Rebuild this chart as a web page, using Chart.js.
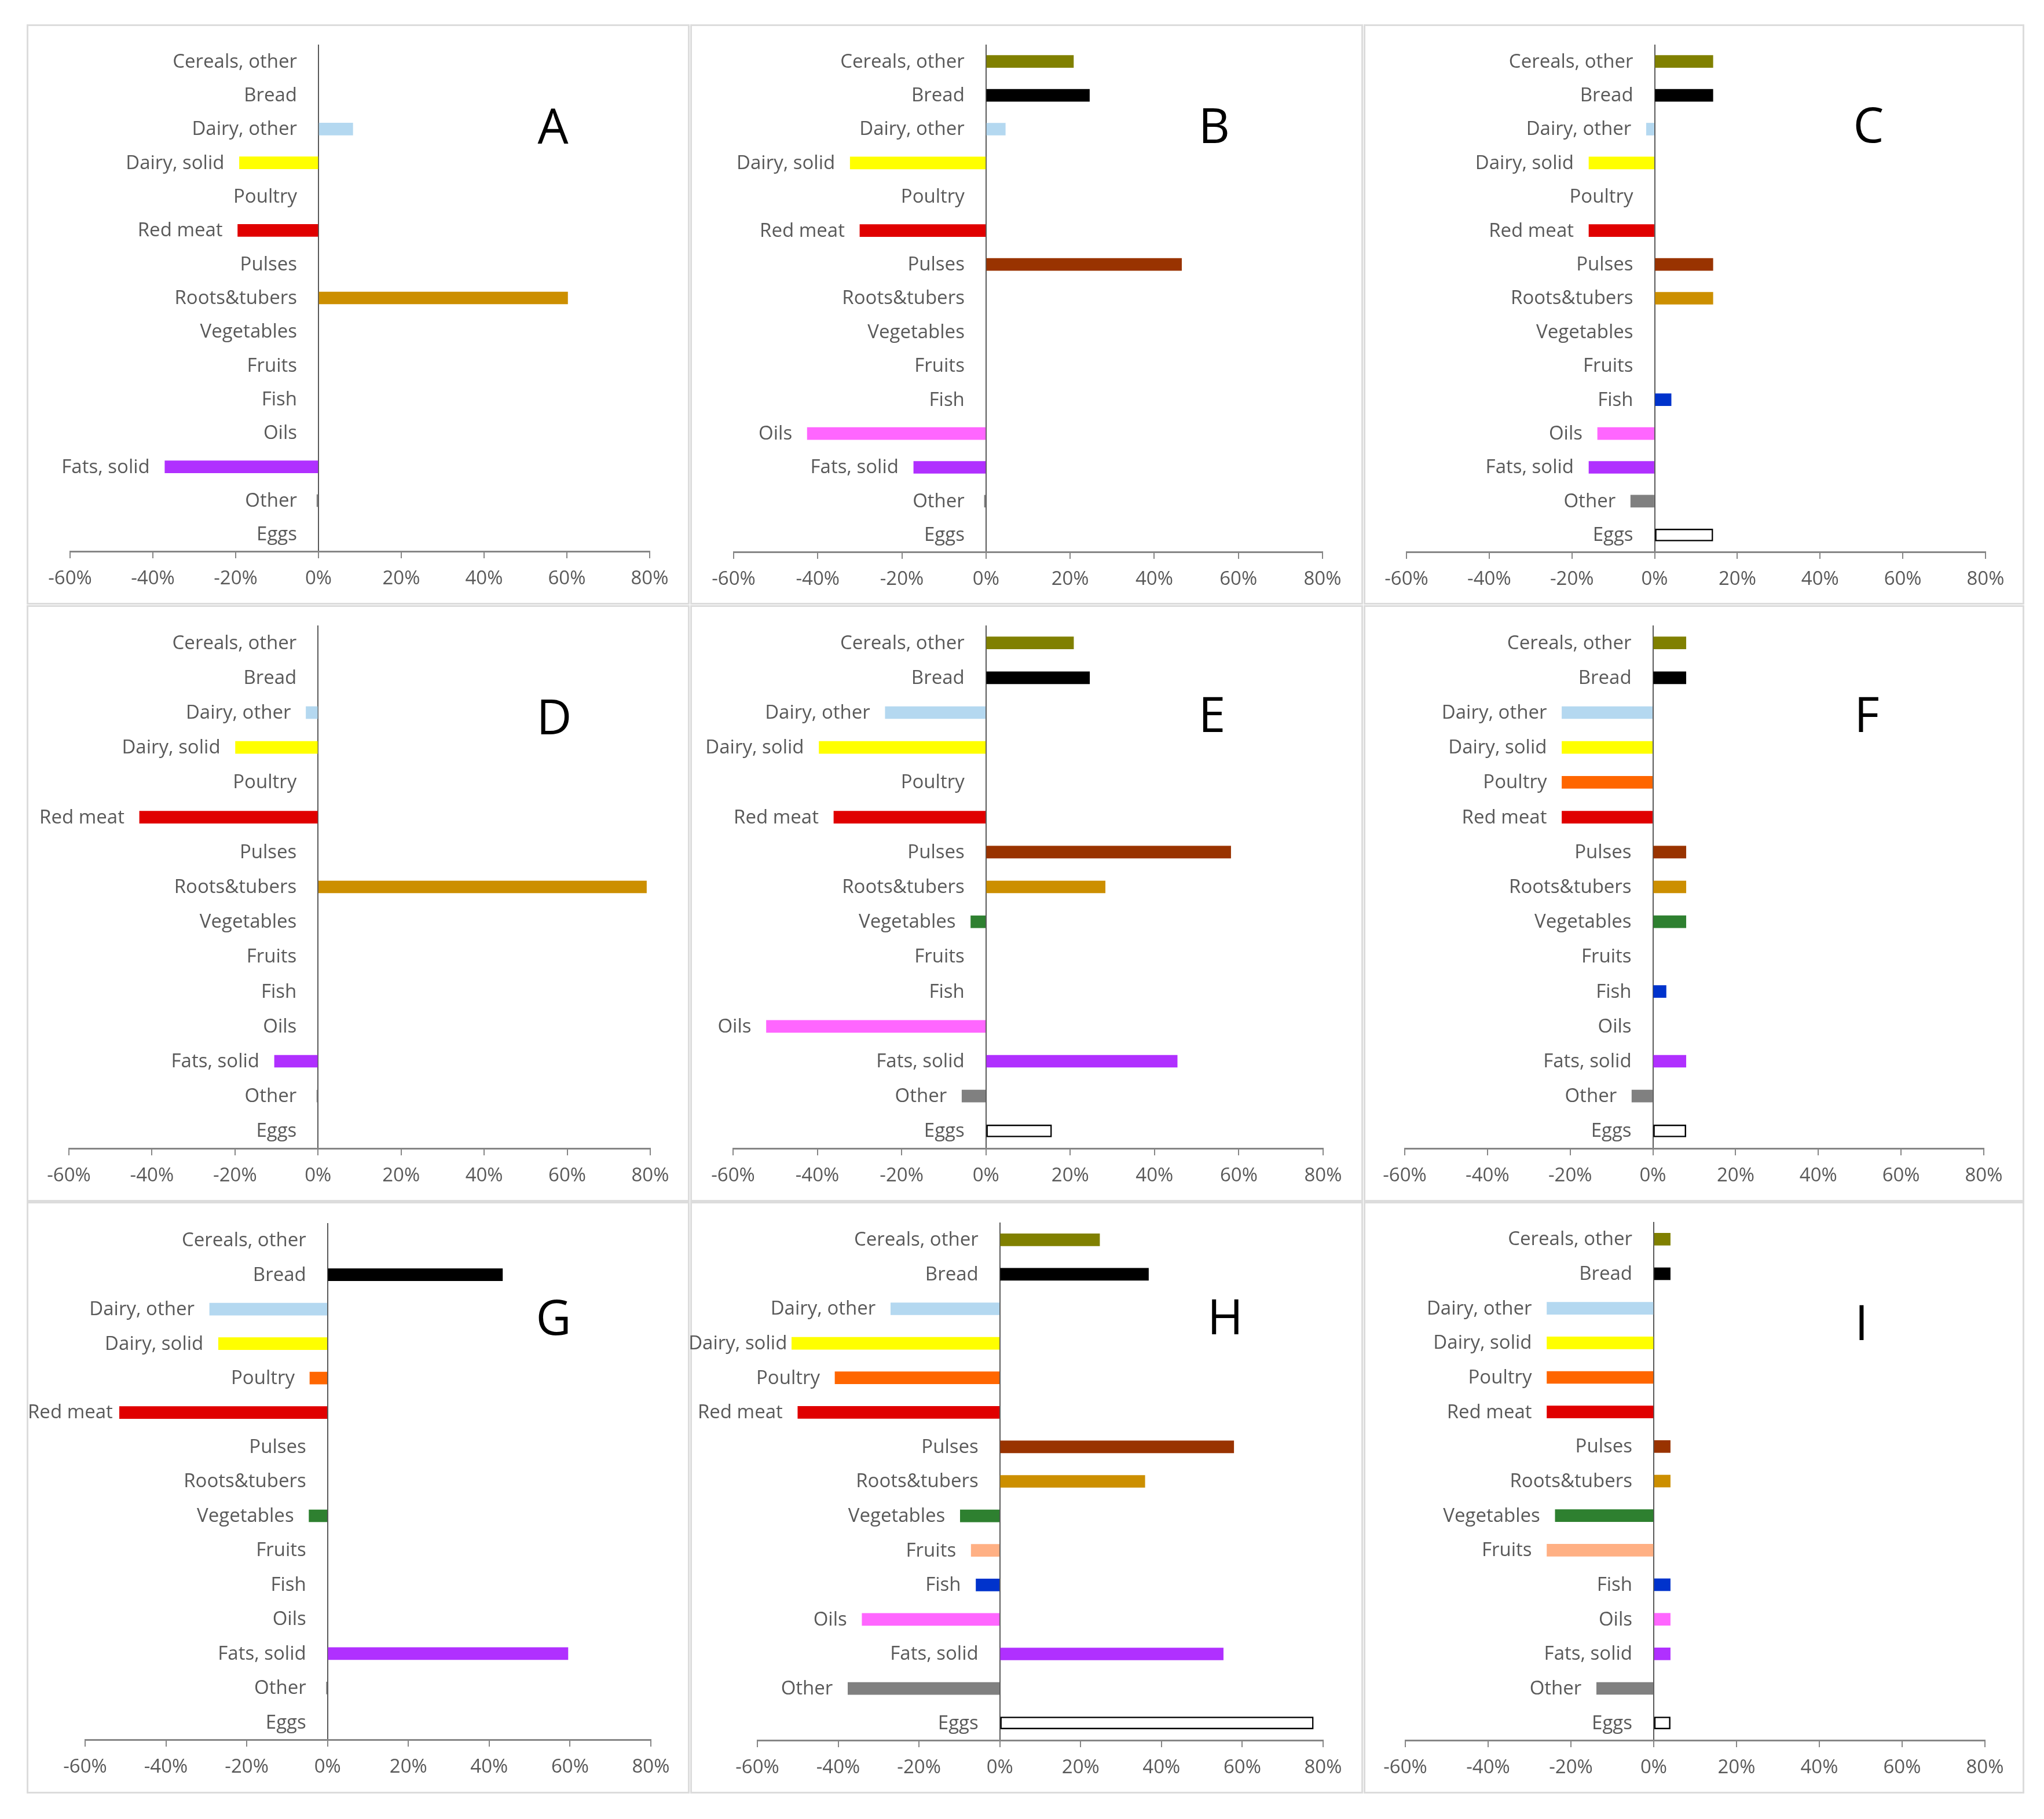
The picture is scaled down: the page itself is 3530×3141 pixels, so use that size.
<!DOCTYPE html>
<html>
<head>
<meta charset="utf-8">
<script src="https://cdn.jsdelivr.net/npm/chart.js@4.4.1/dist/chart.umd.min.js"></script>
<style>
  html, body { margin: 0; padding: 0; background: #fff; }
  #page { position: relative; width: 3530px; height: 3141px; overflow: hidden; }
  .frame { position: absolute; box-sizing: border-box; border: 3px solid #dcdcdc; }
  canvas { position: absolute; }
  .letter { position: absolute; font-family: "Open Sans", sans-serif; font-size: 84px;
            line-height: 1; color: #000; transform: translate(-50%, -50%); }
</style>
</head>
<body>
<div id="page"></div>
<script>
// food groups, top to bottom
const categories = ['Cereals, other', 'Bread', 'Dairy, other', 'Dairy, solid', 'Poultry', 'Red meat',
  'Pulses', 'Roots&tubers', 'Vegetables', 'Fruits', 'Fish', 'Oils', 'Fats, solid', 'Other', 'Eggs'];

// change in %, one array per panel
const valuesA = [0, 0, 8.3, -19.1, 0, -19.5, 0, 60.2, 0, 0, 0, 0, -37.1, -0.4, 0];
const valuesB = [20.8, 24.6, 4.6, -32.3, 0, -30.0, 46.5, 0, 0, 0, 0, -42.5, -17.2, -0.4, 0];
const valuesC = [14.1, 14.1, -2.0, -15.9, 0, -15.9, 14.1, 14.1, 0, 0, 4.0, -13.8, -15.9, -5.8, 14.1];
const valuesD = [0, 0, -2.9, -19.9, 0, -43.0, 0, 79.1, 0, 0, 0, 0, -10.5, -0.3, 0];
const valuesE = [20.8, 24.6, -23.9, -39.6, 0, -36.1, 58.1, 28.3, -3.6, 0, 0, -52.1, 45.4, -5.7, 15.6];
const valuesF = [8, 8, -22, -22, -22, -22, 8, 8, 8, 0, 3.2, 0, 8, -5.1, 8];
const valuesG = [0, 43.3, -29.2, -27.0, -4.4, -51.5, 0, 0, -4.6, 0, 0, 0, 59.5, -0.3, 0];
const valuesH = [24.7, 36.8, -27.0, -51.5, -40.8, -50.0, 57.9, 35.9, -9.8, -7.1, -5.9, -34.1, 55.3, -37.6, 77.6];
const valuesI = [4, 4, -25.8, -25.8, -25.8, -25.8, 4, 4, -23.8, -25.8, 4, 4, 4, -13.8, 4];

const tickValues = [-60, -40, -20, 0, 20, 40, 60, 80];

const barColors = ['#808000', '#000000', '#b4d8f0', '#ffff00', '#ff6600', '#e00000', '#993300',
  '#cc8f00', '#2e8030', '#ffb084', '#0033cc', '#ff66ff', '#b030ff', '#808080', '#ffffff'];
const barBorders = categories.map(c => c === 'Eggs' ? 2.5 : 0);

// panel frames and plot areas in page pixels
const panels = [
  { name: 'A', values: valuesA, box: [46, 42, 1145, 1002], plot: [121, 1122, 77, 952], letter: [955, 216] },
  { name: 'B', values: valuesB, box: [1192, 42, 1162, 1002], plot: [1267, 2284, 77, 953], letter: [2097, 215] },
  { name: 'C', values: valuesC, box: [2355, 42, 1141, 1002], plot: [2429, 3429, 77, 953], letter: [3227, 214] },
  { name: 'D', values: valuesD, box: [46, 1045, 1145, 1030], plot: [119, 1123, 1080, 1983], letter: [957, 1236] },
  { name: 'E', values: valuesE, box: [1192, 1045, 1162, 1030], plot: [1266, 2285, 1080, 1983], letter: [2093, 1232] },
  { name: 'F', values: valuesF, box: [2355, 1045, 1141, 1030], plot: [2426, 3426, 1080, 1983], letter: [3224, 1232] },
  { name: 'G', values: valuesG, box: [46, 2075, 1145, 1022], plot: [147, 1124, 2112, 3004], letter: [956, 2273] },
  { name: 'H', values: valuesH, box: [1192, 2075, 1162, 1022], plot: [1308, 2285, 2111, 3005], letter: [2116, 2272] },
  { name: 'I', values: valuesI, box: [2355, 2075, 1141, 1022], plot: [2427, 3428, 2110, 3005], letter: [3215, 2282] },
];

const AXIS_H = 80;
const FONT = '"Open Sans", sans-serif';

// category names sit left of the zero line, or left of a negative bar;
// long bars push the name against the frame instead of past it
const catLabels = {
  id: 'catLabels',
  afterDatasetsDraw(chart, args, opts) {
    const ctx = chart.ctx;
    const xs = chart.scales.x, ys = chart.scales.y;
    const vals = opts.values;
    const x0 = xs.getPixelForValue(0);
    ctx.save();
    ctx.font = '33px ' + FONT;
    ctx.fillStyle = '#595959';
    ctx.textAlign = 'right';
    ctx.textBaseline = 'middle';
    categories.forEach((c, i) => {
      const v = vals[i];
      let right = x0 - 37;
      if (v < 0) {
        const barStart = xs.getPixelForValue(v);
        right = Math.min(right, barStart - 26);
        const w = ctx.measureText(c).width;
        if (right - w < 2) right = Math.min(w + 2, barStart - 8);
      }
      ctx.fillText(c, right, ys.getPixelForValue(i) + 1);
    });
    ctx.restore();
  }
};

const page = document.getElementById('page');

panels.forEach(p => {
  const [bx, by, bw, bh] = p.box;
  const [pl, pr, pt, pb] = p.plot;

  const frame = document.createElement('div');
  frame.className = 'frame';
  Object.assign(frame.style, { left: bx + 'px', top: by + 'px', width: bw + 'px', height: bh + 'px' });
  page.appendChild(frame);

  const cv = document.createElement('canvas');
  cv.width = bw; cv.height = bh;
  Object.assign(cv.style, { left: bx + 'px', top: by + 'px', width: bw + 'px', height: bh + 'px' });
  page.appendChild(cv);

  const letter = document.createElement('div');
  letter.className = 'letter';
  letter.textContent = p.name;
  Object.assign(letter.style, { left: p.letter[0] + 'px', top: p.letter[1] + 'px' });
  page.appendChild(letter);

  new Chart(cv, {
    type: 'bar',
    data: {
      labels: categories,
      datasets: [{
        // no bar at all where the change is zero
        data: p.values.map(v => v === 0 ? null : v),
        backgroundColor: barColors,
        borderColor: '#000000',
        borderWidth: barBorders,
        borderSkipped: false,
        barThickness: 21
      }]
    },
    options: {
      indexAxis: 'y',
      responsive: false,
      animation: false,
      devicePixelRatio: 1,
      layout: {
        padding: { left: pl - bx, right: bx + bw - pr, top: pt - by, bottom: by + bh - pb - AXIS_H }
      },
      plugins: {
        legend: { display: false },
        tooltip: { enabled: false },
        catLabels: { values: p.values }
      },
      scales: {
        y: { display: false, offset: true },
        x: {
          min: -60, max: 80,
          afterBuildTicks: s => { s.ticks = tickValues.map(v => ({ value: v })); },
          afterFit: s => { s.height = AXIS_H; },
          ticks: {
            callback: v => v + '%',
            color: '#595959',
            font: { family: FONT, size: 33 },
            padding: 16,
            maxRotation: 0,
            autoSkip: false
          },
          grid: {
            color: c => (c.tick && c.tick.value === 0) ? '#595959' : 'rgba(0,0,0,0)',
            lineWidth: 2,
            tickColor: '#868686',
            tickLength: 12,
            tickWidth: 2
          },
          border: { display: true, color: '#868686', width: 3 }
        }
      }
    },
    plugins: [catLabels]
  });
});
</script>
</body>
</html>
